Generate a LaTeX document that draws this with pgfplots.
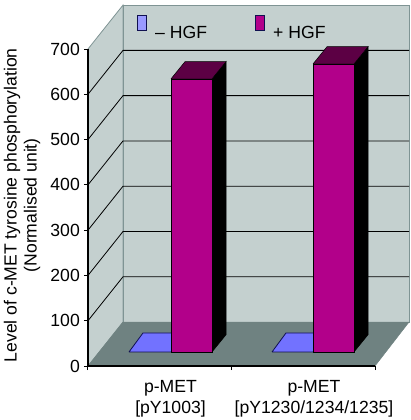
\documentclass[border=0pt]{standalone}
\usepackage{fontspec}
\setmainfont{Liberation Sans}
\usepackage{pgfplots}
\pgfplotsset{compat=1.18}
\definecolor{wall}{HTML}{C4D0CF}
\definecolor{wallb}{HTML}{7F9494}
\definecolor{floorc}{HTML}{6F8281}
\definecolor{grid}{HTML}{2F4040}
\definecolor{mag}{HTML}{B2008A}
\definecolor{magtop}{HTML}{5C0044}
\definecolor{blu}{HTML}{7272FF}
\definecolor{leg}{HTML}{9A9AFF}
\definecolor{navy2}{HTML}{101050}
\newcommand\fs{\fontsize{17.6}{21}\selectfont}
\newcommand\fl{\fontsize{17.6}{20}\selectfont}
\begin{document}
\begin{tikzpicture}[x=1pt,y=1pt]
\begin{axis}[name=a,scale only axis,width=287pt,height=317pt,
 xmin=88,xmax=375,ymin=0,ymax=700,clip=false,axis on top=true,
 axis x line=bottom,axis y line=left,
 axis line style={-,black,line width=1.4pt},
 xtick={88,231.5,375},xticklabels={},
 ytick={0,100,...,700},
 tick style={black,line width=1pt},
 tick align=outside,major tick length=4pt,
 /pgf/number format/assume math mode=true,
 yticklabel style={font=\fl,inner sep=1pt,xshift=-3pt},
 ]
% walls
\addplot[fill=wall,draw=wallb,line width=0.8pt] coordinates {(88,0)(123,97)(123,797)(88,700)(88,0)};
\addplot[fill=wall,draw=wallb,line width=0.8pt] coordinates {(123,97)(409,97)(409,797)(123,797)(123,97)};
% grid
\addplot[grid,line width=0.8pt] coordinates {(88,100)(123,197)(409,197)};
\addplot[grid,line width=0.8pt] coordinates {(88,200)(123,297)(409,297)};
\addplot[grid,line width=0.8pt] coordinates {(88,300)(123,397)(409,397)};
\addplot[grid,line width=0.8pt] coordinates {(88,400)(123,497)(409,497)};
\addplot[grid,line width=0.8pt] coordinates {(88,500)(123,597)(409,597)};
\addplot[grid,line width=0.8pt] coordinates {(88,600)(123,697)(409,697)};
% floor
\addplot[fill=floorc,draw=floorc,line width=0.5pt] coordinates {(88,0)(123,97)(409,97)(375,0)(88,0)};
% bars
\addplot[fill=blu,draw=navy2,line width=0.8pt] coordinates {(129,31)(143,73)(185,73)(171,31)(129,31)};
\addplot[fill=blu,draw=navy2,line width=0.8pt] coordinates {(272,31)(286,73)(327,73)(313,31)(272,31)};
\addplot[fill=black,draw=black,line width=0.5pt] coordinates {(212,31)(226,69)(226,672)(212,634)(212,31)};
\addplot[fill=magtop,draw=black,line width=0.5pt] coordinates {(171,634)(185,672)(226,672)(212,634)(171,634)};
\addplot[fill=mag,draw=black,line width=0.5pt] coordinates {(171,31)(212,31)(212,634)(171,634)(171,31)};
\addplot[fill=black,draw=black,line width=0.5pt] coordinates {(354,31)(368,69)(368,705)(354,667)(354,31)};
\addplot[fill=magtop,draw=black,line width=0.5pt] coordinates {(313,667)(327,705)(368,705)(354,667)(313,667)};
\addplot[fill=mag,draw=black,line width=0.5pt] coordinates {(313,31)(354,31)(354,667)(313,667)(313,31)};
% legend
\addplot[fill=leg,draw=navy2,line width=0.8pt] coordinates {(137.5,740)(146.5,740)(146.5,775)(137.5,775)(137.5,740)};
\addplot[fill=mag,draw=navy2,line width=0.8pt] coordinates {(255.5,740)(264.5,740)(264.5,775)(255.5,775)(255.5,740)};
\node[font=\fl,anchor=west,inner sep=0pt] at (axis cs:155,733) {\strut -- HGF};
\node[font=\fl,anchor=west,inner sep=0pt] at (axis cs:273,733) {\strut + HGF};
% category labels
\node[font=\fs,align=center,inner sep=0pt,anchor=north] at (axis cs:170.5,-32) {p-MET\\{}[pY1003]};
\node[font=\fs,align=center,inner sep=0pt,anchor=north] at (axis cs:314,-32) {p-MET\\{}[pY1230/1234/1235]};
% y label
\node[font=\fl,align=center,rotate=90,inner sep=0pt] at (axis cs:22,355) {Level of c-MET tyrosine phosphorylation\\(Normalised unit)};
\end{axis}
\pgfresetboundingbox
\path[use as bounding box] ([shift={(-88pt,-54pt)}]a.south west) rectangle ([shift={(323pt,366pt)}]a.south west);
\end{tikzpicture}
\end{document}
